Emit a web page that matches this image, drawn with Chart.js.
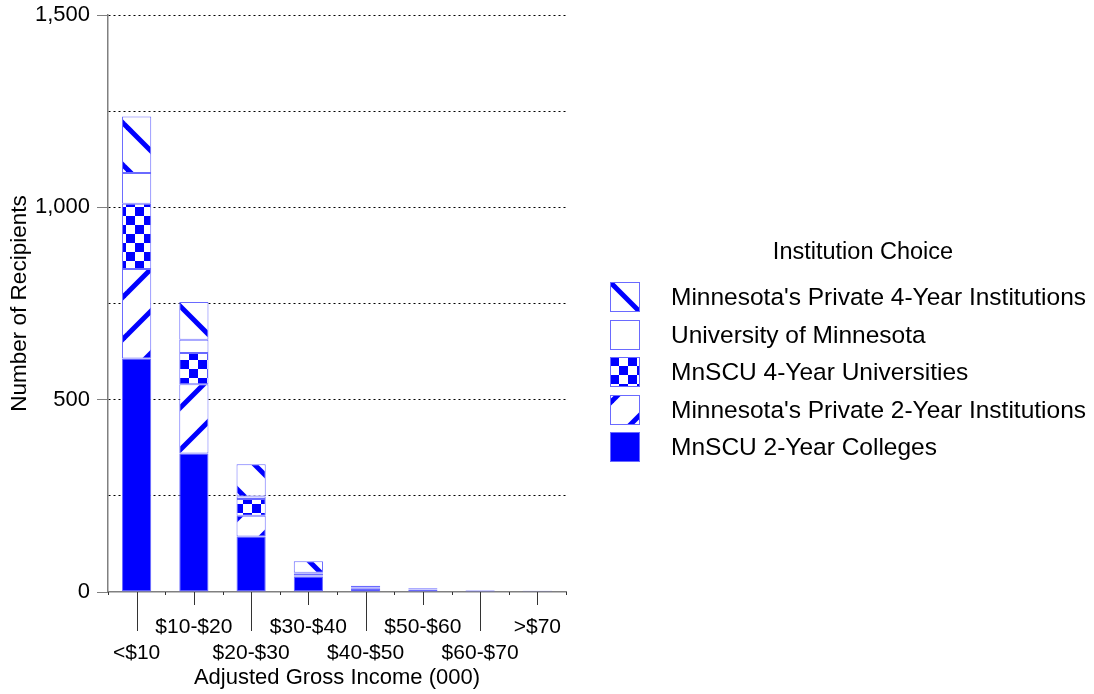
<!DOCTYPE html>
<html>
<head>
<meta charset="utf-8">
<title>Recipients by Adjusted Gross Income</title>
<script src="https://cdn.jsdelivr.net/npm/chart.js@4/dist/chart.umd.min.js"></script>
<style>
  html, body { margin: 0; padding: 0; background: #fff; }
  canvas { display: block; }
</style>
</head>
<body>
<canvas id="incomeChart" width="1094" height="694"></canvas>
<script>
const categories = ['<$10', '$10-$20', '$20-$30', '$30-$40', '$40-$50', '$50-$60', '$60-$70', '>$70'];

// stacked bottom to top
const mnscu2Year = [607, 360, 144, 40, 8, 5, 3, 2];
const private2Year = [233, 180, 54, 3, 2, 1, 1, 0];
const mnscu4Year = [169, 81, 44, 5, 2, 1, 0, 0];
const uOfM = [80, 35, 6, 2, 1, 1, 0, 0];
const private4Year = [147, 98, 84, 30, 3, 2, 1, 1];

const seriesNames = [
    'MnSCU 2-Year Colleges',
    "Minnesota's Private 2-Year Institutions",
    'MnSCU 4-Year Universities',
    'University of Minnesota',
    "Minnesota's Private 4-Year Institutions"
];
const yTicks = [0, 500, 1000, 1500];
const legendTitle = 'Institution Choice';

const BLUE = '#0000ff';
const EDGE = '#6a6aff';
const FONT = '"Liberation Sans", Arial, Helvetica, sans-serif';

const canvas = document.getElementById('incomeChart');
const mainCtx = canvas.getContext('2d');

function makePattern(size, draw) {
    const tile = document.createElement('canvas');
    tile.width = size;
    tile.height = size;
    const g = tile.getContext('2d');
    g.fillStyle = '#fff';
    g.fillRect(0, 0, size, size);
    draw(g, size);
    return mainCtx.createPattern(tile, 'repeat');
}

const backSlash = makePattern(42, (g, s) => {
    g.strokeStyle = BLUE;
    g.lineWidth = 5;
    for (const k of [-1, 0, 1]) {
        g.beginPath();
        g.moveTo(-3, -3 + k * s);
        g.lineTo(s + 3, s + 3 + k * s);
        g.stroke();
    }
});

const fwdSlash = makePattern(42, (g, s) => {
    g.strokeStyle = BLUE;
    g.lineWidth = 5;
    for (const k of [-1, 0, 1]) {
        g.beginPath();
        g.moveTo(-3, s + 3 + k * s);
        g.lineTo(s + 3, -3 + k * s);
        g.stroke();
    }
});

const checker = makePattern(18, (g, s) => {
    g.fillStyle = BLUE;
    g.fillRect(0, 0, s / 2, s / 2);
    g.fillRect(s / 2, s / 2, s / 2, s / 2);
});

// fill + where the pattern starts inside a legend box
const seriesFills = [
    { fill: BLUE, shift: [0, 0] },
    { fill: fwdSlash, shift: [4, 4] },
    { fill: checker, shift: [0, 0] },
    { fill: '#ffffff', shift: [0, 0] },
    { fill: backSlash, shift: [0, 0] }
];

const seriesValues = [mnscu2Year, private2Year, mnscu4Year, uOfM, private4Year];

const datasets = seriesValues.map((values, i) => ({
    label: seriesNames[i],
    data: values,
    backgroundColor: seriesFills[i].fill,
    borderColor: EDGE,
    borderWidth: 1,
    borderSkipped: false,
    barPercentage: 0.51,
    categoryPercentage: 1
}));

// long/short tick marks under the category axis
const xTickMarks = {
    id: 'xTickMarks',
    afterDraw(chart) {
        const ctx = chart.ctx;
        const xs = chart.scales.x;
        const base = chart.chartArea.bottom;
        ctx.save();
        ctx.strokeStyle = '#333';
        ctx.lineWidth = 1;
        xs.ticks.forEach((t, i) => {
            const px = Math.round(xs.getPixelForTick(i)) + 0.5;
            const len = i % 2 === 0 ? 39 : 13;
            ctx.beginPath();
            ctx.moveTo(px, base);
            ctx.lineTo(px, base + len);
            ctx.stroke();
        });
        for (let i = 0; i <= xs.ticks.length; i++) {
            const px = Math.round(xs.getPixelForValue(i - 0.5)) + 0.5;
            ctx.beginPath();
            ctx.moveTo(px, base);
            ctx.lineTo(px, base + 3);
            ctx.stroke();
        }
        ctx.restore();
    }
};

// legend to the right, top series first
const sideLegend = {
    id: 'sideLegend',
    afterDraw(chart) {
        const ctx = chart.ctx;
        const left = chart.chartArea.right + 44;
        const box = 30;
        ctx.save();
        ctx.font = '23.5px ' + FONT;
        ctx.fillStyle = '#000';
        ctx.textAlign = 'center';
        ctx.textBaseline = 'middle';
        ctx.fillText(legendTitle, left + 253, 253);

        ctx.font = '24.5px ' + FONT;
        const order = chart.data.datasets.map((d, i) => i).reverse();
        order.forEach((dsIndex, row) => {
            const ds = chart.data.datasets[dsIndex];
            const [ox, oy] = seriesFills[dsIndex].shift;
            const bx = left;
            const by = Math.round(282 + row * 37.5);
            ctx.save();
            ctx.translate(bx + ox, by + oy);
            ctx.fillStyle = ds.backgroundColor;
            ctx.fillRect(-ox, -oy, box, box);
            ctx.restore();
            ctx.strokeStyle = EDGE;
            ctx.lineWidth = 1;
            ctx.strokeRect(bx + 0.5, by + 0.5, box - 1, box - 1);

            ctx.fillStyle = '#000';
            ctx.textAlign = 'left';
            ctx.fillText(ds.label, left + 61, by + box / 2 + 1);
        });
        ctx.restore();
    }
};

new Chart(canvas, {
    type: 'bar',
    data: {
        labels: categories,
        datasets: datasets
    },
    options: {
        responsive: false,
        animation: false,
        devicePixelRatio: 1,
        layout: {
            padding: { top: 15, right: 528, bottom: 0, left: 0 }
        },
        plugins: {
            legend: { display: false },
            tooltip: { enabled: false }
        },
        scales: {
            x: {
                stacked: true,
                afterFit(scale) { scale.height = 102; },
                grid: { display: false },
                border: { display: true, color: '#808080', width: 1.5 },
                ticks: {
                    autoSkip: false,
                    maxRotation: 0,
                    minRotation: 0,
                    padding: 14,
                    color: '#000',
                    font: { size: 21, family: FONT, lineHeight: 1.25 },
                    callback: (value, index) => index % 2 === 0 ? ['', categories[index]] : categories[index]
                },
                title: {
                    display: true,
                    text: 'Adjusted Gross Income (000)',
                    color: '#000',
                    font: { size: 22, family: FONT, lineHeight: 1.25 },
                    padding: { top: 0, bottom: 2 }
                }
            },
            y: {
                stacked: true,
                min: 0,
                max: 1500,
                afterFit(scale) {
                    scale.width = 108;
                    scale.paddingTop = 0;
                    scale.paddingBottom = 0;
                },
                grid: {
                    color: ctx => ctx.tick && ctx.tick.value === 0 ? 'rgba(0,0,0,0)' : '#000',
                    lineWidth: 1,
                    tickLength: 11,
                    tickWidth: 1,
                    tickBorderDash: [],
                    tickColor: ctx => ctx.tick && yTicks.includes(ctx.tick.value) ? '#808080' : 'rgba(0,0,0,0)'
                },
                border: { display: true, color: '#808080', width: 1.5, dash: [2, 3] },
                ticks: {
                    stepSize: 250,
                    padding: 7,
                    color: '#000',
                    font: { size: 22, family: FONT },
                    callback: value => yTicks.includes(value) ? value.toLocaleString('en-US') : ''
                },
                title: {
                    display: true,
                    text: 'Number of Recipients',
                    color: '#000',
                    font: { size: 22.5, family: FONT, lineHeight: 1.25 },
                    padding: { top: 6, bottom: 0 }
                }
            }
        }
    },
    plugins: [xTickMarks, sideLegend]
});
</script>
</body>
</html>
